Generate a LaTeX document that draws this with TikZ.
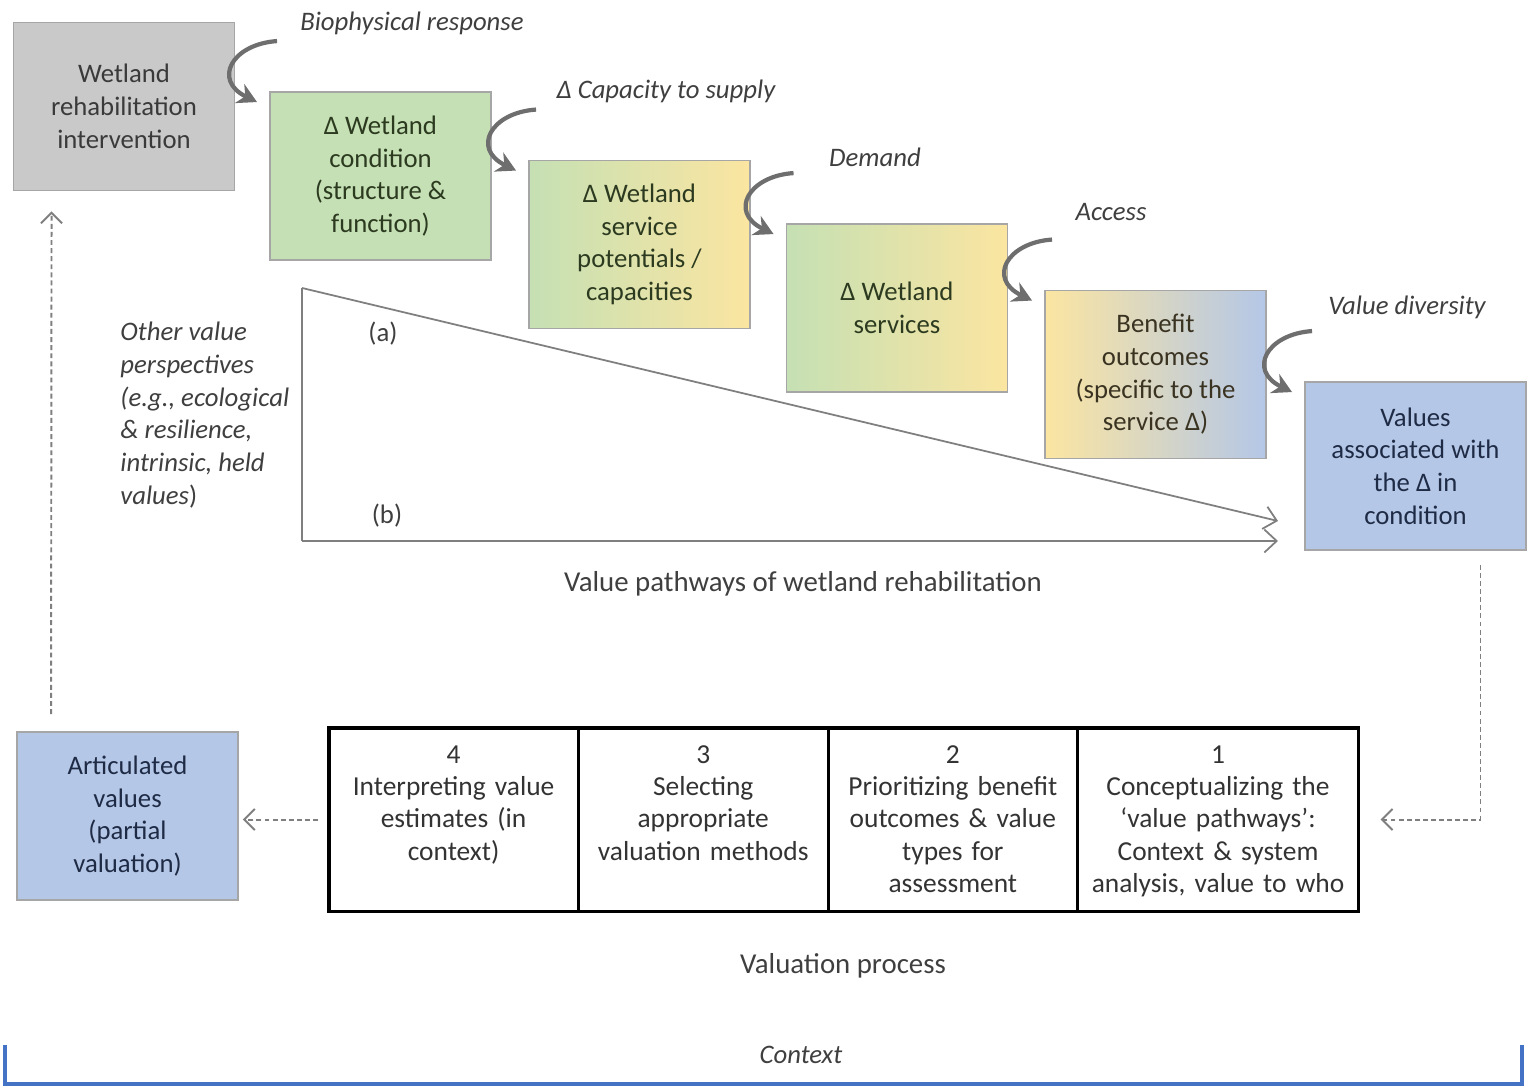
\documentclass[tikz,border=0pt]{standalone}
\usepackage{fontspec}
\setmainfont{Carlito}
\usepackage{xcolor}
\usetikzlibrary{calc,positioning,arrows.meta}

\definecolor{boxline}{HTML}{A6A6A6}
\definecolor{stone}{HTML}{C9C9C9}
\definecolor{leaf}{HTML}{C5E0B4}
\definecolor{sand}{HTML}{FBE5A1}
\definecolor{sky}{HTML}{B4C7E7}
\definecolor{txtgray}{HTML}{3A3A3A}
\definecolor{txtgreen}{HTML}{2C3A20}
\definecolor{txtbrown}{HTML}{3A3322}
\definecolor{txtblue}{HTML}{1F2B45}
\definecolor{labgray}{HTML}{3F3F3F}
\definecolor{arrowgray}{HTML}{6E6E6E}
\definecolor{linegray}{HTML}{7F7F7F}
\definecolor{ctxblue}{HTML}{4472C4}

\newcommand{\boxfont}{\fontsize{7.6}{9.3}\selectfont}
\newcommand{\cellfont}{\fontsize{7.8}{9.2}\selectfont\spaceskip=0.18em plus 0.05em}
\newcommand{\titlefont}{\fontsize{8.2}{10}\selectfont}

\begin{document}
\begin{tikzpicture}[x=0.01cm,y=-0.01cm]
  \tikzset{
  box/.style={draw=boxline,line width=0.5pt,minimum width=2.21cm,minimum height=1.68cm,align=center,inner sep=2pt,font=\boxfont},
  lab/.style={font=\boxfont\itshape,text=labgray},
  curl/.style={draw=arrowgray,line width=1.2pt,-{Stealth[length=5.5pt,width=6pt,inset=1.8pt]}},
  route/.style={draw=linegray,line width=0.5pt,-{Straight Barb[length=3.5pt,width=6.5pt]}},
  dots/.style={draw=linegray,line width=0.55pt,dash pattern=on 1.4pt off 0.9pt,-{Straight Barb[length=3pt,width=6pt]}},
  cell/.style={draw=black,line width=0.9pt,inner sep=0pt,outer sep=0pt,anchor=north west,text height=0.35cm,text depth=1.48cm,align=center,font=\cellfont,text=black!80},
  }
  \useasboundingbox (0,0) rectangle (1529,1089);

  % the pathway boxes
  \node[box,fill=stone,text=txtgray] (interv) at (124,106.5) {Wetland\\rehabilitation\\intervention};
  \node[box,fill=leaf,text=txtgreen] (cond) at (380.5,176) {Δ Wetland\\condition\\(structure \&\\function)};
  \node[box,left color=leaf,right color=sand,text=txtgreen] (pot) at (639.5,244.5) {Δ Wetland\\service\\potentials /\\capacities};
  \node[box,left color=leaf,right color=sand,text=txtgreen] (serv) at (897,308) {Δ Wetland\\services};
  \node[box,left color=sand,right color=sky,text=txtbrown] (ben) at (1155.5,374.5) {Benefit\\outcomes\\(specific to the\\service Δ)};
  \node[box,fill=sky,text=txtblue] (vals) at (1415.5,466) {Values\\associated with\\the Δ in\\condition};
  \node[box,fill=sky,text=txtblue] (art) at (127.5,816) {Articulated\\values\\(partial\\valuation)};

  % the step labels
  \node[lab] (l1) at (412,23) {Biophysical response};
  \node[lab] (l2) at (666,91) {Δ Capacity to supply};
  \node[lab] (l3) at (875,157) {Demand};
  \node[lab] (l4) at (1111,212) {Access};
  \node[lab] (l5) at (1407,307) {Value diversity};

  % the curved arrows
  \foreach \b in {cond,pot,serv,ben,vals} {
    \coordinate (s-\b) at ([shift={(8,-50)}]\b.north west);
    \draw[curl] (s-\b) .. controls +(-45,3) and +(-45,-22) .. ([shift={(-12,11)}]\b.north west);
  }

  % the two value pathways
  \coordinate (a0) at (302,288);
  \coordinate (b0) at (302,541);
  \coordinate (a1) at (1278,521);
  \coordinate (b1) at (1278,541);
  \draw[linegray,line width=0.5pt] (a0) -- (b0);
  \draw[route] (a0) -- (a1);
  \draw[route] (b0) -- (b1);
  \node[font=\boxfont,text=labgray] (pa) at (383,334) {(a)};
  \node[font=\boxfont,text=labgray] (pb) at (387,516) {(b)};
  \node[lab,align=left,anchor=west] (other) at (108,415) {Other value\\perspectives\\(e.g., ecological\\\& resilience,\\intrinsic, held\\values\upshape)};
  \node[font=\titlefont,text=labgray] (vp) at (803,584) {Value pathways of wetland rehabilitation};

  % the valuation steps
  \node[cell,text width=2.49cm] (four) at (329,728) {4\\Interpreting value\\estimates (in\\context)};
  \node[cell,text width=2.50cm,right=0pt of four] (three) {3\\Selecting\\appropriate\\valuation methods};
  \node[cell,text width=2.49cm,right=0pt of three] (two) {2\\Prioritizing benefit\\outcomes \& value\\types for\\assessment};
  \node[cell,text width=2.81cm,right=0pt of two] (one) {1\\Conceptualizing the\\‘value pathways’:\\Context \& system\\analysis, value to who};
  \node[font=\titlefont,text=labgray] (vproc) at (843,966) {Valuation process};

  % the feedback loop
  \coordinate (d0) at ([shift={(65,14)}]vals.south);
  \draw[dots] (d0) |- ([shift={(22,0)}]one.east);
  \draw[dots] ([shift={(-11,0)}]four.west) -- ($(art.east|-four.west)+(4,0)$);
  \draw[dots] ([shift={(35,-17)}]art.north west) -- ([shift={(39,20)}]interv.south west);

  % context bracket
  \coordinate (cl) at (5,1045);
  \coordinate (cr) at (1522,1045);
  \draw[ctxblue,line width=1.4pt] (cl) -- ++(0,39) -| (cr);
  \node[lab] (ctx) at (801,1055) {Context};
\end{tikzpicture}
\end{document}
